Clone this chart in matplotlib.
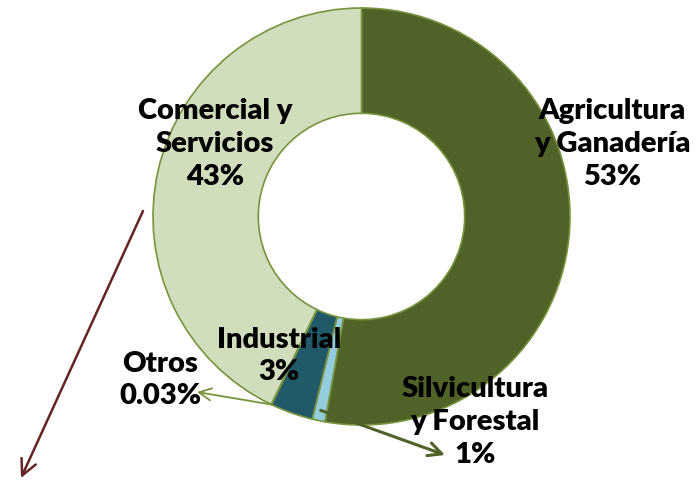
import matplotlib.pyplot as plt
import numpy as np

# datos del grafico (orden horario desde arriba)
sectores = ["Agricultura\ny Ganadería", "Silvicultura\ny Forestal", "Industrial", "Otros", "Comercial y\nServicios"]
valores = [52.8, 1.0, 3.3, 0.03, 42.87]
etiquetas_pct = ["53%", "1%", "3%", "0.03%", "43%"]
colores = ["#4F6228", "#93CDDD", "#215968", "#C3D69B", "#D0DEBE"]

W, H = 698, 482
cx, cy, R = 361.5, 216.5, 208.5


def px(x, y):
    # pixeles de la imagen -> unidades del grafico
    return ((x - cx) / R, (cy - y) / R)


fig = plt.figure(figsize=(W / 100, H / 100), dpi=100)
ax = fig.add_axes([0, 0, 1, 1])

wedges, _ = ax.pie(valores, colors=colores, startangle=90, counterclock=False,
                   radius=1, wedgeprops=dict(width=0.505, edgecolor="#77933C", linewidth=1.2))

ax.set_xlim(-cx / R, (W - cx) / R)
ax.set_ylim(-(H - cy) / R, cy / R)
ax.set_aspect("equal")
ax.axis("off")

fuente = dict(family=["Lato", "DejaVu Sans"], fontweight="heavy", fontsize=21,
              ha="center", va="center", linespacing=1.33)

pos_texto = [px(612, 144), px(475, 422), px(279, 356), px(160, 380), px(215, 144)]
for nombre, pct, (x, y) in zip(sectores, etiquetas_pct, pos_texto):
    ax.text(x, y, nombre + "\n" + pct, **fuente)


def borde(i, r=1.0):
    # punto en el centro angular de una porcion
    ang = np.deg2rad((wedges[i].theta1 + wedges[i].theta2) / 2)
    return (r * np.cos(ang), r * np.sin(ang))


# flechas hacia las etiquetas pequenas
ax.annotate("", xy=px(197, 392), xytext=borde(3),
            arrowprops=dict(arrowstyle="->", color="#77933C", lw=1.3, mutation_scale=22,
                            shrinkA=0, shrinkB=0))
ax.annotate("", xy=px(445, 455), xytext=borde(1, 0.95),
            arrowprops=dict(arrowstyle="->", color="#4F6228", lw=2.2, mutation_scale=24,
                            shrinkA=0, shrinkB=0))
ax.annotate("", xy=px(21, 478), xytext=px(143, 211),
            arrowprops=dict(arrowstyle="->", color="#632523", lw=1.8, mutation_scale=28,
                            shrinkA=0, shrinkB=0))

fig.savefig("out.png", dpi=100)
